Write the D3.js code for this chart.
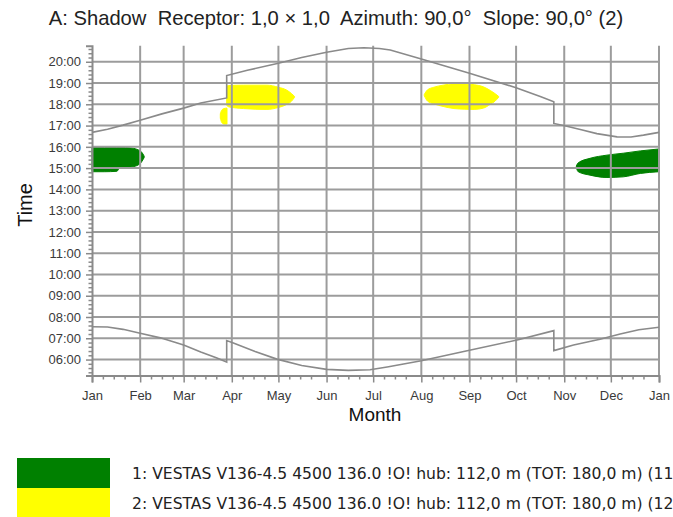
<!DOCTYPE html>
<html>
<head>
<meta charset="utf-8">
<script src="https://cdn.jsdelivr.net/npm/d3@7"></script>
<style>
  body { margin: 0; background: #fff; }
  text { font-family: "Liberation Sans", Arial, sans-serif; }
</style>
</head>
<body>
<div id="vis-container"></div>
<script>
// chart data: [day of year, hour] (DST jumps are doubled days)
var sunriseTimes = [[0,7.54],[10,7.53],[20,7.42],[31,7.24],[44,7.02],[59,6.68],[70,6.35],[80,6.08],[86.7,5.88],
  [86.7,6.89],[91,6.78],[105,6.38],[119,6.02],[135,5.72],[151,5.54],[165,5.49],[179,5.52],[190,5.65],[212,5.94],
  [243,6.44],[275,6.94],[297.3,7.36],[297.3,6.42],[310,6.68],[327,6.95],[340,7.2],[352,7.4],[365,7.52]];
var sunsetTimes = [[0,16.68],[10,16.83],[20,17.02],[31,17.25],[45,17.55],[59,17.82],[70,18.06],[86.7,18.3],
  [86.7,19.35],[100,19.6],[120,19.93],[135,20.2],[151,20.45],[165,20.62],[175,20.66],[185,20.62],[192,20.55],
  [212,20.13],[243,19.46],[273,18.78],[289,18.35],[297.3,18.12],[297.3,17.1],[305,16.98],[315,16.8],[325,16.62],
  [338,16.47],[347,16.46],[355,16.55],[365,16.68]];

// shadow periods: [day, start hour, end hour]
var shadowWT1Jan = [[0,14.83,15.97],[8,14.83,15.97],[16,14.85,15.97],[18,15.02,15.97],[25,15.05,15.95],
  [29,15.12,15.88],[32,15.3,15.75],[33.6,15.5,15.56]];
var shadowWT1Dec = [[311.8,15.0,15.1],[313,14.83,15.25],[320.6,14.67,15.46],[331.5,14.56,15.61],
  [342,14.59,15.7],[353,14.75,15.81],[365,14.83,15.9]];
var shadowWT2Mar = [[82.6,17.35,17.55],[83.5,17.15,17.72],[85,17.07,17.8],[86.9,17.07,17.82]];
var shadowWT2Apr = [[86.7,17.95,18.85],[88,17.88,18.88],[97.6,17.8,18.9],[112.6,17.76,18.9],[120,17.85,18.8],
  [125,17.98,18.68],[128.5,18.15,18.5],[130.4,18.33,18.37]];
var shadowWT2Aug = [[213.9,18.4,18.46],[216,18.15,18.68],[220,18.02,18.8],[226,17.9,18.9],[233,17.8,18.96],
  [240,17.77,18.96],[246,17.76,18.92],[252,17.82,18.82],[256.4,18.0,18.65],[259.5,18.15,18.5],[261.8,18.33,18.37]];

var hourTicks = d3.range(6, 21);
var minuteTicks = d3.range(5.4, 20.75, 0.2).filter(function (h) { return Math.abs(h - Math.round(h)) > 0.01; });
var minorDays = [8, 15, 22];

var legendColors = ["#008000", "#ffff00"];
var legendLabels = ["1: VESTAS V136-4.5 4500 136.0 !O! hub: 112,0 m (TOT: 180,0 m) (11)",
  "2: VESTAS V136-4.5 4500 136.0 !O! hub: 112,0 m (TOT: 180,0 m) (12)"];
var titleText = "A: Shadow  Receptor: 1,0 \u00d7 1,0  Azimuth: 90,0\u00b0  Slope: 90,0\u00b0 (2)";

var width = 673, height = 517;
var svg = d3.select("#vis-container")
	.append("svg")
	.attr("width", width)
	.attr("height", height)
	.style("background", "#fff");

var yearStart = new Date(Date.UTC(2023, 0, 1));
var yearEnd = new Date(Date.UTC(2024, 0, 1));
function dayToDate(d) { return new Date(yearStart.getTime() + d * 864e5); }

// Scale functions
var xScale = d3.scaleUtc().domain([yearStart, yearEnd]).range([92, 659]);
var yScale = d3.scaleLinear().domain([5.25, 20.75]).range([375.5, 45.8]);

var line = d3.line()
	.x(function (d) { return xScale(dayToDate(d[0])); })
	.y(function (d) { return yScale(d[1]); });
var area = d3.area()
	.x(function (d) { return xScale(dayToDate(d[0])); })
	.y0(function (d) { return yScale(d[1]); })
	.y1(function (d) { return yScale(d[2]); })
	.curve(d3.curveMonotoneX);

// shadow blobs (below grid)
[[shadowWT1Jan, 0], [shadowWT1Dec, 0], [shadowWT2Mar, 1], [shadowWT2Apr, 1], [shadowWT2Aug, 1]].forEach(function (s) {
	svg.append("path")
		.datum(s[0])
		.attr("fill", legendColors[s[1]])
		.attr("stroke", legendColors[s[1]])
		.attr("stroke-width", 1)
		.attr("d", area);
});

var months = d3.utcMonths(yearStart, new Date(Date.UTC(2024, 0, 2)));
var minorDates = [];
months.slice(0, 12).forEach(function (m) {
	minorDays.forEach(function (d) { minorDates.push(new Date(Date.UTC(2023, m.getUTCMonth(), d))); });
});

// grid
svg.append("g").selectAll("line")
	.data(hourTicks)
	.join("line")
	.attr("x1", xScale.range()[0]).attr("x2", xScale.range()[1])
	.attr("y1", function (d) { return yScale(d); }).attr("y2", function (d) { return yScale(d); })
	.attr("stroke", "#9c9c9c").attr("stroke-width", 2);
svg.append("g").selectAll("line")
	.data(months.slice(1))
	.join("line")
	.attr("x1", function (d) { return xScale(d); }).attr("x2", function (d) { return xScale(d); })
	.attr("y1", yScale.range()[1]).attr("y2", yScale.range()[0])
	.attr("stroke", "#9c9c9c").attr("stroke-width", 2);

// sunrise / sunset
[sunriseTimes, sunsetTimes].forEach(function (s) {
	svg.append("path")
		.datum(s)
		.attr("fill", "none")
		.attr("stroke", "#8a8a8a")
		.attr("stroke-width", 1.6)
		.attr("d", line);
});

// axes
var xAxis = svg.append("g")
	.attr("transform", "translate(0," + yScale.range()[0] + ")")
	.call(d3.axisBottom(xScale).tickValues(months).tickFormat(d3.utcFormat("%b")).tickSize(7).tickPadding(8));
svg.append("g")
	.attr("transform", "translate(0," + yScale.range()[0] + ")")
	.call(d3.axisBottom(xScale).tickValues(minorDates).tickFormat("").tickSize(4))
	.select(".domain").remove();
var yAxis = svg.append("g")
	.attr("transform", "translate(" + xScale.range()[0] + ",0)")
	.call(d3.axisLeft(yScale).tickValues(hourTicks)
		.tickFormat(function (h) { return d3.format("02d")(h) + ":00"; }).tickSize(6).tickPadding(5));
svg.append("g")
	.attr("transform", "translate(" + xScale.range()[0] + ",0)")
	.call(d3.axisLeft(yScale).tickValues(minuteTicks).tickFormat("").tickSize(3.5))
	.select(".domain").remove();

svg.selectAll(".domain").attr("stroke", "#8a8a8a").attr("stroke-width", 2);
svg.selectAll(".tick line").attr("stroke", "#8a8a8a").attr("stroke-width", 1.5);
svg.selectAll(".tick text")
	.style("font-family", "'Liberation Sans', Arial, sans-serif")
	.style("font-size", "13px")
	.attr("fill", "#3a3a3a");

// axis titles
svg.append("text")
	.attr("transform", "rotate(-90)")
	.attr("x", -205)
	.attr("y", 32)
	.style("text-anchor", "middle")
	.style("font-size", "20px")
	.attr("fill", "#111")
	.text("Time");
svg.append("text")
	.attr("x", 375)
	.attr("y", 421)
	.style("text-anchor", "middle")
	.style("font-size", "19px")
	.attr("fill", "#111")
	.text("Month");

// title
svg.append("text")
	.attr("x", 336)
	.attr("y", 25)
	.style("text-anchor", "middle")
	.style("font-size", "20.2px")
	.style("white-space", "pre")
	.attr("fill", "#222")
	.text(titleText);

// legend
legendLabels.forEach(function (t, i) {
	svg.append("rect")
		.attr("x", 17).attr("y", 458 + i * 30)
		.attr("width", 93).attr("height", 30)
		.attr("fill", legendColors[i]);
	svg.append("text")
		.attr("x", 132).attr("y", 479 + i * 30)
		.style("font-family", "'DejaVu Sans', Tahoma, sans-serif")
		.style("font-size", "15.6px")
		.attr("fill", "#222")
		.text(t);
});
</script>
</body>
</html>
